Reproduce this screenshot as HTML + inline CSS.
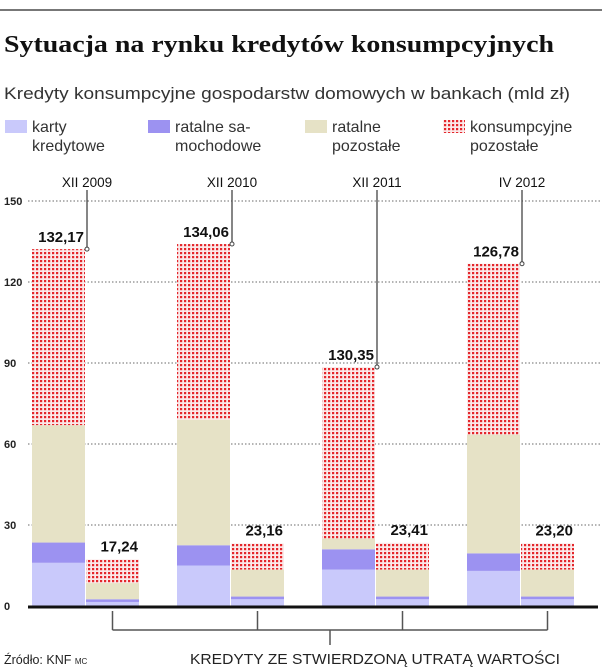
<!DOCTYPE html>
<html><head><meta charset="utf-8"><style>
body{margin:0;background:#fff;width:615px;height:669px;overflow:hidden;font-family:"Liberation Sans",sans-serif}
svg{display:block}
</style></head><body>
<svg width="615" height="669" viewBox="0 0 615 669" xmlns="http://www.w3.org/2000/svg">
<defs>
<pattern id="dots" width="4" height="4" patternUnits="userSpaceOnUse">
<rect width="4" height="4" fill="#fbe9e9"/>
<rect x="0" y="0" width="2.2" height="2.2" fill="#e4262b"/>
</pattern>
</defs>
<line x1="0" y1="10" x2="602" y2="10" stroke="#777" stroke-width="2"/>
<text x="4" y="52" font-family="Liberation Serif,serif" font-weight="bold" font-size="24" fill="#111" textLength="550" lengthAdjust="spacingAndGlyphs">Sytuacja na rynku kredytów konsumpcyjnych</text>
<text x="4" y="99" font-size="16.5" fill="#333" textLength="566" lengthAdjust="spacingAndGlyphs">Kredyty konsumpcyjne gospodarstw domowych w bankach (mld zł)</text>
<g id="legend" font-size="16" fill="#333"></g>
<g id="grid"></g>
<g id="bars"></g>
<g id="anno"></g>
<line x1="28" y1="607" x2="598" y2="607" stroke="#111" stroke-width="3"/>
<g id="bracket" stroke="#555" stroke-width="1.5" fill="none"></g>
<text x="190" y="664" font-size="15" fill="#222" textLength="370" lengthAdjust="spacingAndGlyphs">KREDYTY ZE STWIERDZONĄ UTRATĄ WARTOŚCI</text>
<text x="4" y="664" font-size="12.5" fill="#222">Źródło: KNF <tspan font-size="8">MC</tspan></text>
</svg>
<script>
const periods=["XII 2009","XII 2010","XII 2011","IV 2012"];
const seriesNames=["karty kredytowe","ratalne samochodowe","ratalne pozostałe","konsumpcyjne pozostałe"];
const bigKarty=[16,15,13.5,13];
const bigSamoch=[7.5,7.5,7.5,6.5];
const bigPozost=[43.5,46.5,4,44];
const bigKonsump=[65.17,65.06,63.5,63.28];
const bigLabels=["132,17","134,06","130,35","126,78"];
const smKarty=[1.5,2.5,2.5,2.5];
const smSamoch=[1,1,1,1];
const smPozost=[6,10,10,10];
const smKonsump=[8.74,9.66,9.91,9.7];
const smLabels=["17,24","23,16","23,41","23,20"];
const yTicks=[0,30,60,90,120,150];

const NS="http://www.w3.org/2000/svg";
function el(t,a,p){const e=document.createElementNS(NS,t);for(const k in a)e.setAttribute(k,a[k]);(p||document.querySelector('svg')).appendChild(e);return e;}
const y0=606,k=2.7;
const yS=v=>y0-v*k;
const groupX=i=>32+i*145;
const bw=53;
const fills=["#c9c9fb","#9c92f1","#e6e2c6","url(#dots)"];

const leg=document.getElementById('legend');
const legX=[5,148,305,443];
const legL1=["karty","ratalne sa-","ratalne","konsumpcyjne"];
const legL2=["kredytowe","mochodowe","pozostałe","pozostałe"];
legX.forEach((x,i)=>{
  const g=el('g',{},leg);
  
  
  el('rect',{x:x,y:120,width:22,height:13,fill:fills[i]},g);
  const t=el('text',{x:x+27,y:132},g);t.textContent=legL1[i];
  const t2=el('text',{x:x+27,y:151},g);t2.textContent=legL2[i];
});

const grid=document.getElementById('grid');
yTicks.forEach(v=>{
  if(v>0){const l=el('line',{x1:28,x2:600,y1:yS(v),y2:yS(v),stroke:'#888','stroke-width':1.2,'stroke-dasharray':'1.5 2'},grid);
  }
  const t=el('text',{x:4,y:yS(v)+4,'font-size':11,'font-weight':'bold',fill:'#222'},grid);
  
  t.textContent=v;
});

const bars=document.getElementById('bars');
const anno=document.getElementById('anno');
function stack(x,vals,name){
  let acc=0;
  vals.forEach((v,j)=>{
    const r=el('rect',{x:x,y:yS(acc+v),width:bw,height:v*k,fill:fills[j]},bars);
    
    
    acc+=v;
  });
  return acc;
}
periods.forEach((p,i)=>{
  const x=groupX(i);
  const tb=stack(x,[bigKarty[i],bigSamoch[i],bigPozost[i],bigKonsump[i]],'bar-total-'+(i+1));
  const ts=stack(x+bw+1,[smKarty[i],smSamoch[i],smPozost[i],smKonsump[i]],'bar-impaired-'+(i+1));
  const lx=x+bw+2;
  const ln=el('line',{x1:lx,x2:lx,y1:190,y2:yS(tb),stroke:'#444','stroke-width':1.3},anno);
  
  el('circle',{cx:lx,cy:yS(tb),r:2,fill:'#fff',stroke:'#444'},anno);
  const pt=el('text',{x:lx,y:187,'text-anchor':'middle','font-size':13.5,fill:'#111'},anno);
  
  pt.textContent=p;
  const vt=el('text',{x:x+bw-1,y:yS(tb)-7,'text-anchor':'end','font-size':15,'font-weight':'bold',fill:'#111'},anno);
  
  vt.textContent=bigLabels[i];
  const st=el('text',{x:x+bw*2,y:yS(ts)-8,'text-anchor':'end','font-size':15,'font-weight':'bold',fill:'#111'},anno);
  
  st.textContent=smLabels[i];
});

const br=document.getElementById('bracket');
const cx=periods.map((p,i)=>groupX(i)+bw+1+bw/2);
cx.forEach(c=>el('line',{x1:c,x2:c,y1:611,y2:630},br));
el('line',{x1:cx[0],x2:cx[cx.length-1],y1:630,y2:630},br);
const mid=(cx[0]+cx[cx.length-1])/2;
el('line',{x1:mid,x2:mid,y1:630,y2:645},br);
</script>
</body></html>
